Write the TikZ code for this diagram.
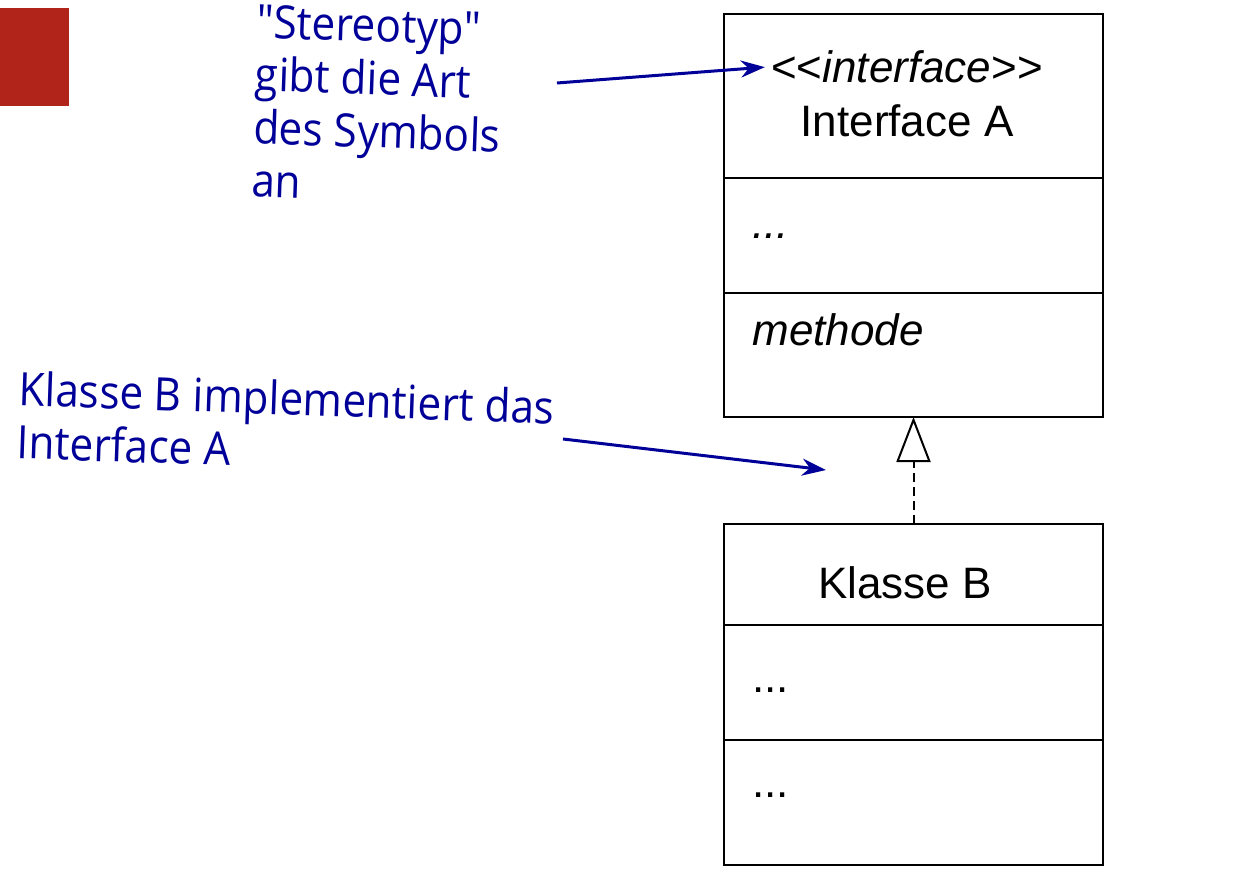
\documentclass[tikz,border=0pt]{standalone}
\usepackage{fontspec}
\setmainfont{Liberation Sans}
\newfontfamily\notefont{Open Sans}[FakeStretch=0.92]
\usetikzlibrary{arrows.meta, positioning}

\definecolor{notecol}{HTML}{000099}  % Anmerkungen
\definecolor{barred}{HTML}{B0241A}   % Folienbalken

\begin{document}
\begin{tikzpicture}[
    x=0.5pt, y=-0.5pt,
    comp/.style={draw, line width=1pt, anchor=north west, inner sep=0pt,
                 outer sep=0pt, minimum width=189.5pt},
    uml/.style={font=\fontsize{22}{26}\selectfont, inner sep=2pt},
    member/.style={uml, anchor=west},
    note/.style={font=\notefont\fontsize{23}{26.5}\selectfont, text=notecol,
                 align=left, rotate=-2, inner sep=0pt},
    ptr/.style={-{Stealth[length=12pt, width=8.5pt]}, draw=notecol, line width=1.5pt},
    real/.style={-{Triangle[open, length=22.5pt, width=17pt]}, line width=1pt,
                 dash pattern=on 4.5pt off 2.5pt},
]
\useasboundingbox (0,0) rectangle (1240,876);
\fill[barred] (0,8) rectangle (69,106);

% ---- Interface A ----
\node[comp, minimum height=82pt]   (ifHead) at (724,14)  {};
\node[comp, minimum height=57.5pt] (ifAttr) at (724,178) {};
\node[comp, minimum height=62pt]   (ifMeth) at (724,293) {};
\node[uml] (stereo) at (907,67)  {<\kern0pt<\textit{interface}>\kern0pt>};
\node[uml] (ifName) at (907,121) {Interface A};
\node[member] (ifDots) at (748,236) {\textit{...}};
\node[member] (ifOp)   at (748,330) {\textit{methode}};

% ---- Klasse B ----
\node[comp, minimum height=50.5pt] (kbHead) at (724,524) {};
\node[comp, minimum height=57.5pt] (kbAttr) at (724,625) {};
\node[comp, minimum height=62.5pt] (kbMeth) at (724,740) {};
\node[uml] (kbName) at (905,583) {Klasse B};
\node[member] (kbDotsA) at (748,690) {...};
\node[member] (kbDotsB) at (748,795) {...};

% ---- Realisierung ----
\draw[real] (kbHead.north) -- (ifMeth.south);

% ---- Anmerkungen ----
\node[note] (noteStereo) at (378,105) {"Stereotyp"\\gibt die Art\\des Symbols\\an};
\node[note] (noteImpl) at (286,424) {Klasse B implementiert das\\Interface A};
\coordinate (stereoFrom) at (557,83);
\coordinate (implFrom) at (563,439);
\coordinate (implTo) at (826,470);
\draw[ptr, shorten >=1pt] (stereoFrom) -- (stereo.west);
\draw[ptr] (implFrom) -- (implTo);
\end{tikzpicture}
\end{document}
